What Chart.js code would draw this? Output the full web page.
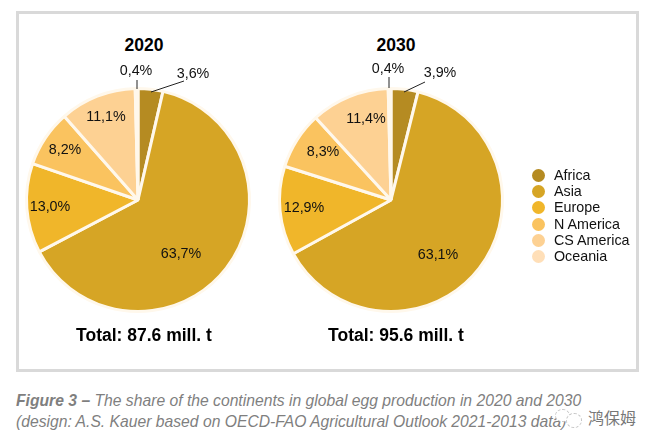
<!DOCTYPE html>
<html>
<head>
<meta charset="utf-8">
<script src="https://cdn.jsdelivr.net/npm/chart.js@4/dist/chart.umd.min.js"></script>
<style>
  html, body { margin: 0; background: #fff; }
  body { position: relative; width: 656px; height: 447px; overflow: hidden; font-family: "Liberation Sans", Arial, sans-serif; }
  #frame { position: absolute; left: 16px; top: 11px; width: 617px; height: 355px; border: 3px solid #d9d9d9; }
  .box { position: absolute; }
  .box canvas { display: block; }
  .head { position: absolute; width: 200px; text-align: center; font-weight: bold; font-size: 17.5px; color: #000; line-height: 20px; }
  #legend { position: absolute; left: 532px; top: 167px; font-size: 14.3px; color: #111; }
  #legend div { height: 16.2px; line-height: 16px; white-space: nowrap; }
  #legend i { display: inline-block; width: 13px; height: 13px; border-radius: 50%; margin-right: 9px; vertical-align: -2px; }
  #caption { position: absolute; left: 16px; top: 390px; font-size: 15.7px; line-height: 21px; font-style: italic; color: #7f7f7f; white-space: nowrap; }
  #mark { position: absolute; left: 588px; top: 405px; font-size: 16px; color: #777; font-family: "Noto Sans CJK SC", sans-serif; }
  .swirl { position: absolute; border: 1px dashed #c4c4c4; border-radius: 50%; background: #fff; }
</style>
</head>
<body>
<div id="frame"></div>
<div class="head" style="left:44px;top:35px">2020</div>
<div class="head" style="left:296px;top:35px">2030</div>
<div class="box" style="left:-7px;top:55px"><canvas id="pie2020" width="290" height="290"></canvas></div>
<div class="box" style="left:246px;top:55px"><canvas id="pie2030" width="290" height="290"></canvas></div>
<div class="head" style="left:44px;top:325px">Total: 87.6 mill. t</div>
<div class="head" style="left:296px;top:325px">Total: 95.6 mill. t</div>
<div id="legend"></div>
<div id="caption"><b>Figure 3 –</b> The share of the continents in global egg production in 2020 and 2030<br>(design: A.S. Kauer based on OECD-FAO Agricultural Outlook 2021-2013 data)</div>
<div class="swirl" style="left:555px;top:409px;width:13px;height:11px"></div>
<div class="swirl" style="left:566px;top:413px;width:14px;height:13px"></div>
<div id="mark">鸿保姆</div>
<script>
const continents = ['Africa', 'Asia', 'Europe', 'N America', 'CS America', 'Oceania'];
const values2020 = [3.6, 63.7, 13.0, 8.2, 11.1, 0.4];
const values2030 = [3.9, 63.1, 12.9, 8.3, 11.4, 0.4];
const sliceColors = ['#b58b22', '#d6a525', '#f0b62a', '#fac35f', '#fdd193', '#ffdfb8'];

// label centres, relative to the pie centre, same order as the values
const labelSpots2020 = [[55, -126], [43, 54], [-88, 7], [-73, -50], [-32, -83], [-2, -129]];
const labelSpots2030 = [[49, -127], [47, 55], [-87, 8], [-68, -48], [-25, -81], [-3, -131]];
// leader lines: slice index, from (near label), to (in the slice)
const leaders2020 = [[0, [46, -119], [13, -108]], [5, [-1, -120], [-1, -111]]];
const leaders2030 = [[0, [34, -118], [13, -108]], [5, [-2, -123], [-2, -112]]];

// draws the value labels and the leader lines of the small slices
const pieLabelPlugin = {
  id: 'pieLabelPlugin',
  afterDraw(chart, args, opts) {
    const { ctx } = chart;
    const arc = chart.getDatasetMeta(0).data[0];
    const cx = arc.x, cy = arc.y;

    ctx.save();
    ctx.strokeStyle = '#222';
    ctx.lineWidth = 1;
    opts.leaders.forEach(l => {
      ctx.beginPath();
      ctx.moveTo(cx + l[1][0], cy + l[1][1]);
      ctx.lineTo(cx + l[2][0], cy + l[2][1]);
      ctx.stroke();
    });

    ctx.font = '14.3px "Liberation Sans", Arial, sans-serif';
    ctx.fillStyle = '#111';
    ctx.textAlign = 'center';
    ctx.textBaseline = 'middle';
    chart.data.datasets[0].data.forEach((v, i) => {
      const text = v.toFixed(1).replace('.', ',') + '%';
      ctx.fillText(text, cx + opts.spots[i][0], cy + opts.spots[i][1]);
    });
    ctx.restore();
  }
};

function makePie(id, values, spots, leaders) {
  return new Chart(document.getElementById(id), {
    type: 'pie',
    data: {
      labels: continents,
      datasets: [{
        data: values,
        backgroundColor: sliceColors,
        borderColor: '#fff8ec',
        borderWidth: 3
      }]
    },
    options: {
      responsive: false,
      animation: false,
      layout: { padding: 32 },
      plugins: {
        legend: { display: false },
        tooltip: { enabled: false },
        pieLabelPlugin: { spots: spots, leaders: leaders }
      }
    },
    plugins: [pieLabelPlugin]
  });
}

const legendBox = document.getElementById('legend');
continents.forEach((name, i) => {
  const row = document.createElement('div');
  const dot = document.createElement('i');
  dot.style.background = sliceColors[i];
  row.appendChild(dot);
  row.appendChild(document.createTextNode(name));
  legendBox.appendChild(row);
});

makePie('pie2020', values2020, labelSpots2020, leaders2020);
makePie('pie2030', values2030, labelSpots2030, leaders2030);
</script>
</body>
</html>
